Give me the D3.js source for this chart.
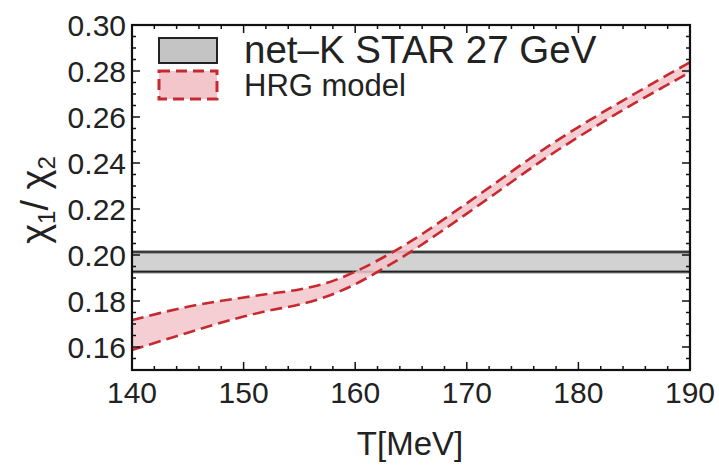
<!DOCTYPE html>
<html>
<head>
<meta charset="utf-8">
<script src="https://cdn.jsdelivr.net/npm/d3@7"></script>
<style>
  body { margin: 0; background: #fff; }
  text { font-family: "Liberation Sans", Arial, sans-serif; }
</style>
</head>
<body>
<div id="chart"></div>
<script>
"use strict";

// data
var temps = [140, 142.5, 145, 147.5, 150, 152.5, 155, 157.5, 160, 162.5, 165,
             167.5, 170, 172.5, 175, 177.5, 180, 182.5, 185, 187.5, 190];
var hrgUpper = [0.1717, 0.1748, 0.1776, 0.1798, 0.1815, 0.1833, 0.1848, 0.1876, 0.1925, 0.1988, 0.2058,
                0.2140, 0.2225, 0.2310, 0.2398, 0.2480, 0.2557, 0.2630, 0.2700, 0.2770, 0.2838];
var hrgLower = [0.1587, 0.1625, 0.1662, 0.1700, 0.1733, 0.1762, 0.1782, 0.1818, 0.1870, 0.1940, 0.2013,
                0.2095, 0.2180, 0.2265, 0.2352, 0.2437, 0.2513, 0.2588, 0.2660, 0.2727, 0.2795];
var starBand = [0.1927, 0.2013];
var xTicks = [140, 150, 160, 170, 180, 190];
var yTicks = [0.16, 0.18, 0.20, 0.22, 0.24, 0.26, 0.28, 0.30];
var legendLabels = ["net\u2013K STAR 27 GeV", "HRG model"];

var width = 719, height = 470;
var plotLeft = 132, plotRight = 690, plotTop = 25, plotBottom = 370;

var svg = d3.select("#chart").append("svg")
  .attr("width", width)
  .attr("height", height);

var x = d3.scaleLinear().domain([140, 190]).range([plotLeft, plotRight]);
var y = d3.scaleLinear().domain([0.15, 0.30]).range([plotBottom, plotTop]);

var red = "#c62a30";
var pink = "#f2c6ca";

// clip to the frame
svg.append("clipPath").attr("id", "frame")
  .append("rect")
  .attr("x", plotLeft).attr("y", plotTop)
  .attr("width", plotRight - plotLeft).attr("height", plotBottom - plotTop);

var plot = svg.append("g").attr("clip-path", "url(#frame)");

// STAR band
plot.append("rect")
  .attr("x", plotLeft)
  .attr("y", y(starBand[1]))
  .attr("width", plotRight - plotLeft)
  .attr("height", y(starBand[0]) - y(starBand[1]))
  .attr("fill", "#d2d2d2");
starBand.forEach(function(v) {
  plot.append("line")
    .attr("x1", plotLeft).attr("x2", plotRight)
    .attr("y1", y(v)).attr("y2", y(v))
    .attr("stroke", "#8a8a8a").attr("stroke-width", 3.5);
  plot.append("line")
    .attr("x1", plotLeft).attr("x2", plotRight)
    .attr("y1", y(v)).attr("y2", y(v))
    .attr("stroke", "#222").attr("stroke-width", 1.5);
});

// HRG band
var rows = temps.map(function(t, i) { return { t: t, lo: hrgLower[i], hi: hrgUpper[i] }; });

var area = d3.area()
  .curve(d3.curveBasis)
  .x(function(d) { return x(d.t); })
  .y0(function(d) { return y(d.lo); })
  .y1(function(d) { return y(d.hi); });

plot.append("path")
  .datum(rows)
  .attr("d", area)
  .attr("fill", pink)
  .attr("fill-opacity", 0.85);

["lo", "hi"].forEach(function(key) {
  var line = d3.line()
    .curve(d3.curveBasis)
    .x(function(d) { return x(d.t); })
    .y(function(d) { return y(d[key]); });
  plot.append("path")
    .datum(rows)
    .attr("d", line)
    .attr("fill", "none")
    .attr("stroke", red)
    .attr("stroke-width", 2.6)
    .attr("stroke-dasharray", "12,6");
});

// frame + ticks (inward, all four sides)
var majorLen = 8, minorLen = 4;
var xMinor = d3.range(140, 190.01, 2);
var yMinor = d3.range(0.15, 0.3001, 0.005);

var ticks = svg.append("g").attr("stroke", "#111");
xMinor.forEach(function(v) {
  var len = xTicks.indexOf(Math.round(v)) >= 0 ? majorLen : minorLen;
  ticks.append("line").attr("x1", x(v)).attr("x2", x(v))
    .attr("y1", plotBottom).attr("y2", plotBottom - len).attr("stroke-width", 1.5);
  ticks.append("line").attr("x1", x(v)).attr("x2", x(v))
    .attr("y1", plotTop).attr("y2", plotTop + len).attr("stroke-width", 1.5);
});
yMinor.forEach(function(v) {
  var isMajor = yTicks.some(function(t) { return Math.abs(t - v) < 1e-6; });
  var len = isMajor ? majorLen : minorLen;
  ticks.append("line").attr("y1", y(v)).attr("y2", y(v))
    .attr("x1", plotLeft).attr("x2", plotLeft + len).attr("stroke-width", 1.5);
  ticks.append("line").attr("y1", y(v)).attr("y2", y(v))
    .attr("x1", plotRight).attr("x2", plotRight - len).attr("stroke-width", 1.5);
});

svg.append("rect")
  .attr("x", plotLeft).attr("y", plotTop)
  .attr("width", plotRight - plotLeft).attr("height", plotBottom - plotTop)
  .attr("fill", "none")
  .attr("stroke", "#111")
  .attr("stroke-width", 2.2);

// tick labels
svg.selectAll(".xlab").data(xTicks).enter().append("text")
  .attr("x", function(d) { return x(d); })
  .attr("y", 403)
  .attr("text-anchor", "middle")
  .attr("font-size", 30)
  .attr("fill", "#222")
  .text(function(d) { return d; });

svg.selectAll(".ylab").data(yTicks).enter().append("text")
  .attr("x", 126)
  .attr("y", function(d) { return y(d); })
  .attr("dy", "0.36em")
  .attr("text-anchor", "end")
  .attr("font-size", 30)
  .attr("fill", "#222")
  .text(function(d) { return d.toFixed(2); });

// axis titles
svg.append("text")
  .attr("x", 410)
  .attr("y", 455)
  .attr("text-anchor", "middle")
  .attr("font-size", 33)
  .attr("fill", "#222")
  .text("T[MeV]");

var yTitle = svg.append("text")
  .attr("transform", "translate(48,200) rotate(-90)")
  .attr("text-anchor", "middle")
  .attr("font-size", 38)
  .attr("fill", "#222");
yTitle.append("tspan").text("\u03c7");
yTitle.append("tspan").attr("font-size", 24).attr("dy", 7).text("1");
yTitle.append("tspan").attr("dy", -7).text("/ \u03c7");
yTitle.append("tspan").attr("font-size", 24).attr("dy", 7).text("2");

// legend
svg.append("rect")
  .attr("x", 159).attr("y", 38).attr("width", 58).attr("height", 25)
  .attr("fill", "#c4c4c4").attr("stroke", "#222").attr("stroke-width", 2);
svg.append("rect")
  .attr("x", 159).attr("y", 71).attr("width", 58).attr("height", 28)
  .attr("fill", pink).attr("stroke", red).attr("stroke-width", 3)
  .attr("stroke-dasharray", "11,6");

svg.append("text")
  .attr("x", 244).attr("y", 63)
  .attr("font-size", 38.5)
  .attr("fill", "#222")
  .text(legendLabels[0]);
svg.append("text")
  .attr("x", 244).attr("y", 96)
  .attr("font-size", 31)
  .attr("fill", "#222")
  .text(legendLabels[1]);
</script>
</body>
</html>
